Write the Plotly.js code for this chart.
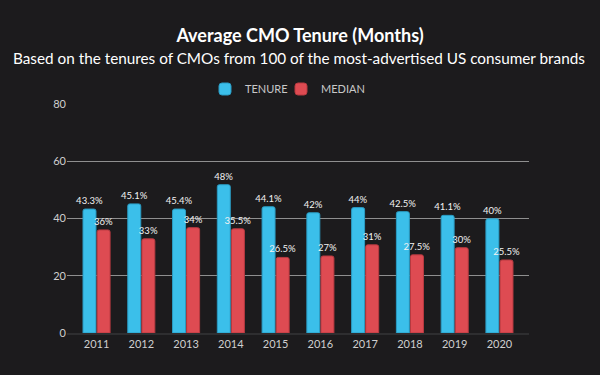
<!DOCTYPE html>
<html>
<head>
<meta charset="utf-8">
<script src="https://cdn.plot.ly/plotly-3.0.1.min.js"></script>
<style>html,body{margin:0;padding:0;background:#1c1b1d;}#chart{width:600px;height:375px;}</style>
</head>
<body>
<div id="chart"></div>
<script>
const years = ["2011","2012","2013","2014","2015","2016","2017","2018","2019","2020"];
const tenureValues = [43.3, 45.1, 43.3, 51.8, 44.1, 42, 43.8, 42.4, 41.1, 39.9];
const medianValues = [36, 32.9, 36.8, 36.4, 26.4, 26.9, 30.8, 27.3, 29.8, 25.5];
const tenureLabels = ["43.3%","45.1%","45.4%","48%","44.1%","42%","44%","42.5%","41.1%","40%"];
const medianLabels = ["36%","33%","34%","35.5%","26.5%","27%","31%","27.5%","30%","25.5%"];
const yTicks = [0, 20, 40, 60, 80];

const FONT = "Lato, 'Open Sans', sans-serif";

const traces = [
  {
    type: "bar", name: "TENURE", x: years, y: tenureValues,
    text: tenureLabels, textposition: "outside", constraintext: "none", cliponaxis: false,
    textfont: {family: FONT, size: 9.5, color: "#f2f2f2"},
    marker: {color: "#3bbfea", line: {color: "#2a9cc4", width: 1}, cornerradius: 2},
    hoverinfo: "none"
  },
  {
    type: "bar", name: "MEDIAN", x: years, y: medianValues,
    text: medianLabels, textposition: "outside", constraintext: "none", cliponaxis: false,
    textfont: {family: FONT, size: 9.5, color: "#f2f2f2"},
    marker: {color: "#de4b52", line: {color: "#b83a40", width: 1}, cornerradius: 2},
    hoverinfo: "none"
  },
  {
    // invisible spacer so the last legend label is not clipped
    type: "scatter", mode: "markers", name: " ", x: [null], y: [null],
    marker: {opacity: 0, color: "rgba(0,0,0,0)"}, showlegend: true, hoverinfo: "none"
  }
];

const layout = {
  width: 600, height: 375,
  paper_bgcolor: "#1c1b1d", plot_bgcolor: "#1c1b1d",
  margin: {l: 67, r: 71, t: 104, b: 42},
  barmode: "group", bargap: 0.37, bargroupgap: 0.08,
  font: {family: FONT, color: "#d0d0d0"},
  showlegend: true,
  legend: {orientation: "h", x: 205/600, xref: "container", xanchor: "left",
    y: 1 - 89/375, yref: "container", yanchor: "middle",
    font: {family: FONT, size: 11, color: "#c8c8c8"}, bgcolor: "rgba(0,0,0,0)",
    itemwidth: 30, entrywidth: 31, entrywidthmode: "pixels", tracegroupgap: 0},
  title: {text: "<b>Average CMO Tenure (Months)</b>", x: 0.5, xanchor: "center",
    y: 1 - 36/375, yanchor: "middle", yref: "container",
    font: {family: FONT, size: 18, color: "#ffffff"}},
  annotations: [{
    text: "Based on the tenures of CMOs from 100 of the most-advertised US consumer brands",
    xref: "paper", yref: "paper", y: 1 + (104-58)/229, xanchor: "center", yanchor: "middle",
    showarrow: false, font: {family: FONT, size: 15.3, color: "#ffffff"}, x: (299-67)/462
  }],
  xaxis: {type: "category", range: [-0.66, 9.66], showgrid: false, zeroline: false, showline: true,
    linecolor: "#2e2e30", linewidth: 2,
    ticks: "", tickfont: {family: FONT, size: 11, color: "#cfcfcf"}},
  yaxis: {range: [0, 80], tickvals: yTicks, showgrid: true, gridcolor: "#8f8f8f", gridwidth: 1,
    zeroline: false, showline: false, ticks: "", ticklen: 0,
    tickfont: {family: FONT, size: 11, color: "#cfcfcf"}}
};

Plotly.newPlot("chart", traces, layout, {displayModeBar: false, staticPlot: true});
</script>
</body>
</html>
